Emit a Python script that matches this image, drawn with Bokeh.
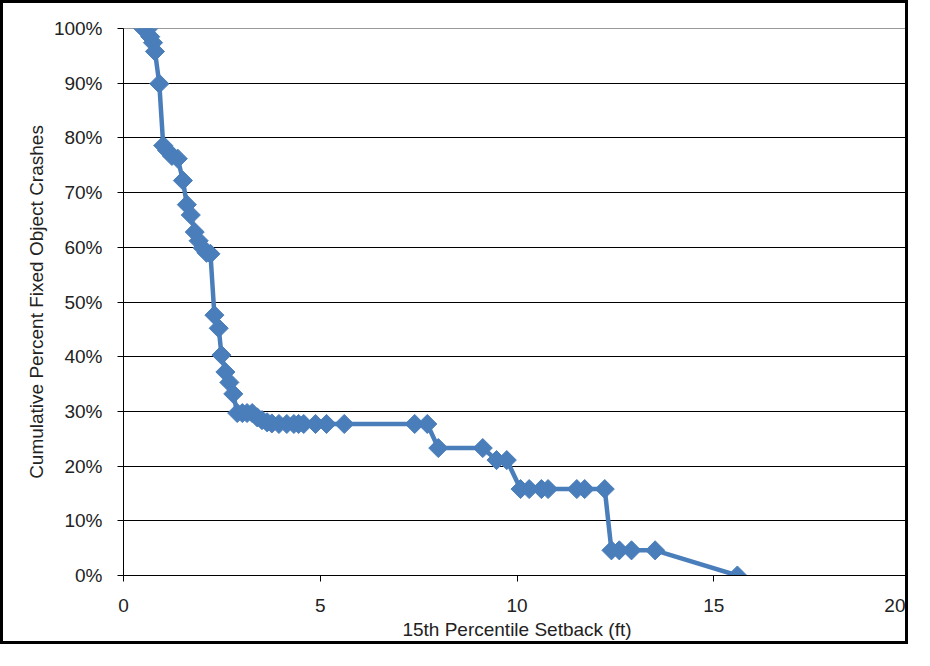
import math
from bokeh.plotting import figure
from bokeh.models import ColumnDataSource, FixedTicker, PrintfTickFormatter, Range1d
from bokeh.embed import file_html
from bokeh.resources import INLINE

setback_ft = [0.50, 0.63, 0.68, 0.75, 0.80, 0.91, 1.01, 1.11, 1.23, 1.38,
              1.51, 1.61, 1.71, 1.81, 1.91, 2.01, 2.11, 2.21, 2.31, 2.42,
              2.49, 2.59, 2.69, 2.79, 2.89, 3.02, 3.14, 3.27, 3.40, 3.52,
              3.65, 3.77, 3.95, 4.15, 4.33, 4.45, 4.58, 4.88, 5.16, 5.61,
              7.40, 7.72, 8.00, 9.13, 9.48, 9.74, 10.09, 10.31, 10.62, 10.79,
              11.52, 11.72, 12.23, 12.40, 12.60, 12.91, 13.51, 15.60]
cum_pct = [100.0, 100.0, 98.5, 97.4, 95.8, 89.9, 78.6, 77.7, 76.7, 76.2,
           72.2, 67.8, 65.9, 62.8, 61.2, 59.9, 59.0, 58.8, 47.6, 45.2,
           40.3, 37.2, 35.3, 33.2, 29.7, 29.7, 29.7, 29.7, 28.9, 28.4,
           28.0, 27.8, 27.7, 27.7, 27.7, 27.7, 27.7, 27.7, 27.7, 27.7,
           27.7, 27.7, 23.3, 23.3, 21.1, 21.1, 15.8, 15.8, 15.8, 15.8,
           15.8, 15.8, 15.8, 4.6, 4.6, 4.6, 4.6, 0.0]
x_ticks = [0, 5, 10, 15, 20]
y_ticks = [0, 10, 20, 30, 40, 50, 60, 70, 80, 90, 100]

src = ColumnDataSource(data=dict(x=setback_ft, y=cum_pct))

p = figure(width=908, height=644, output_backend="svg", toolbar_location=None,
           x_range=Range1d(0, 20), y_range=Range1d(0, 100),
           min_border_left=120, min_border_right=1, min_border_top=25,
           min_border_bottom=72)
p.styles = {"border": "3px solid black"}

FONT = "Liberation Sans"
p.outline_line_color = "#999999"
p.outline_line_width = 1

p.xgrid.grid_line_color = None
p.ygrid.grid_line_color = "black"
p.ygrid.grid_line_width = 1
p.ygrid.ticker = FixedTicker(ticks=y_ticks)

p.xaxis.ticker = FixedTicker(ticks=x_ticks)
p.yaxis.ticker = FixedTicker(ticks=y_ticks)
p.yaxis.formatter = PrintfTickFormatter(format="%d%%")

for ax in (p.xaxis[0], p.yaxis[0]):
    ax.axis_line_color = "black"
    ax.axis_line_width = 1
    ax.major_tick_line_color = "black"
    ax.major_tick_out = 6
    ax.major_tick_in = 0
    ax.minor_tick_line_color = None
    ax.major_label_text_font = FONT
    ax.major_label_text_font_size = "19px"
    ax.major_label_text_color = "#222222"
    ax.axis_label_text_font = FONT
    ax.axis_label_text_font_size = "19px"
    ax.axis_label_text_font_style = "normal"
    ax.axis_label_text_color = "#222222"

p.xaxis.axis_label = "15th Percentile Setback (ft)"
p.yaxis.axis_label = "Cumulative Percent Fixed Object Crashes"
p.xaxis.major_label_standoff = 17
p.xaxis.axis_label_standoff = 4
p.yaxis.major_label_standoff = 15
p.yaxis.axis_label_standoff = 4

p.line("x", "y", source=src, line_color="#4a7ebb", line_width=4.5)
p.scatter("x", "y", source=src, marker="square", size=13.5, angle=math.pi / 4,
          fill_color="#4a7ebb", line_color="#4a7ebb")

open("out.html", "w").write(file_html(p, INLINE))
